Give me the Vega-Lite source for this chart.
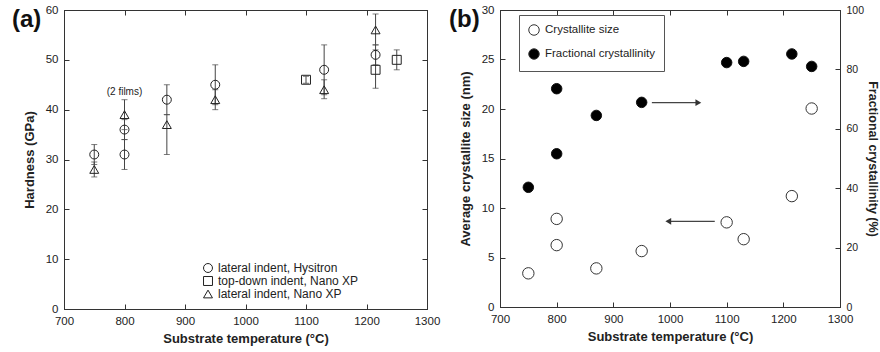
{
  "$schema": "https://vega.github.io/schema/vega-lite/v6.json",
  "padding": {"left": 11, "top": 3, "right": 0, "bottom": 0},
  "background": "white",
  "spacing": 7,
  "config": {
    "font": "Liberation Sans",
    "view": {"stroke": "#333", "strokeWidth": 1},
    "axis": {"grid": false, "labelFont": "Liberation Sans", "labelFontSize": 11.5, "labelColor": "#222", "titleFont": "Liberation Sans", "titleFontSize": 13, "titleFontWeight": "bold", "titleColor": "#222", "tickColor": "#333", "domainColor": "#333", "tickSize": -5, "labelPadding": 11, "format": "d", "labelFlush": false, "labelOverlap": false},
    "title": {"font": "Liberation Sans", "fontSize": 24, "fontWeight": "bold", "color": "#111", "anchor": "start", "frame": "group"},
    "legend": {"labelFont": "Liberation Sans"}
  },
  "resolve": {"scale": {"shape": "independent", "fill": "independent"}, "legend": {"shape": "independent", "fill": "independent"}},
  "hconcat": [
    {
      "width": 363,
      "height": 299,
      "title": {"text": "(a)", "dx": -52, "dy": 32},
      "data": {"values": [
        {"T": 750, "H": 31, "lo": 29, "hi": 33, "s": "lateral indent, Hysitron"},
        {"T": 800, "H": 36, "lo": 34, "hi": 38, "s": "lateral indent, Hysitron"},
        {"T": 800, "H": 31, "lo": 28, "hi": 34, "s": "lateral indent, Hysitron"},
        {"T": 870, "H": 42, "lo": 39, "hi": 45, "s": "lateral indent, Hysitron"},
        {"T": 950, "H": 45, "lo": 41, "hi": 49, "s": "lateral indent, Hysitron"},
        {"T": 1130, "H": 48, "lo": 43, "hi": 53, "s": "lateral indent, Hysitron"},
        {"T": 1215, "H": 51, "lo": 49, "hi": 53, "s": "lateral indent, Hysitron"},
        {"T": 1100, "H": 46, "lo": 45.3, "hi": 46.7, "s": "top-down indent, Nano XP"},
        {"T": 1215, "H": 48, "lo": 44.3, "hi": 52, "s": "top-down indent, Nano XP"},
        {"T": 1250, "H": 50, "lo": 48, "hi": 52, "s": "top-down indent, Nano XP"},
        {"T": 750, "H": 28, "lo": 26.5, "hi": 29.5, "s": "lateral indent, Nano XP"},
        {"T": 800, "H": 39, "lo": 36, "hi": 42, "s": "lateral indent, Nano XP"},
        {"T": 870, "H": 37, "lo": 31, "hi": 39, "s": "lateral indent, Nano XP"},
        {"T": 950, "H": 42, "lo": 40, "hi": 44, "s": "lateral indent, Nano XP"},
        {"T": 1130, "H": 44, "lo": 42.2, "hi": 46, "s": "lateral indent, Nano XP"},
        {"T": 1215, "H": 56, "lo": 53, "hi": 59.2, "s": "lateral indent, Nano XP"}
      ]},
      "layer": [
        {
          "mark": {"type": "rule", "color": "#444", "strokeWidth": 1},
          "encoding": {
            "x": {"field": "T", "type": "quantitative", "scale": {"domain": [700, 1300], "nice": false}, "axis": null},
            "y": {"field": "lo", "type": "quantitative", "scale": {"domain": [0, 60], "nice": false}, "axis": null},
            "y2": {"field": "hi"}
          }
        },
        {
          "mark": {"type": "tick", "orient": "horizontal", "size": 6, "thickness": 1, "color": "#444"},
          "encoding": {
            "x": {"field": "T", "type": "quantitative", "axis": null},
            "y": {"field": "lo", "type": "quantitative", "axis": null}
          }
        },
        {
          "mark": {"type": "tick", "orient": "horizontal", "size": 6, "thickness": 1, "color": "#444"},
          "encoding": {
            "x": {"field": "T", "type": "quantitative", "axis": null},
            "y": {"field": "hi", "type": "quantitative", "axis": null}
          }
        },
        {
          "mark": {"type": "point", "filled": false, "size": 80, "strokeWidth": 1, "color": "#222", "opacity": 1},
          "encoding": {
            "x": {"field": "T", "type": "quantitative", "title": "Substrate temperature (°C)", "axis": {"values": [700, 800, 900, 1000, 1100, 1200, 1300], "titlePadding": 6}},
            "y": {"field": "H", "type": "quantitative", "title": "Hardness (GPa)", "axis": {"values": [0, 10, 20, 30, 40, 50, 60], "titlePadding": 9}},
            "shape": {
              "field": "s", "type": "nominal",
              "scale": {"domain": ["lateral indent, Hysitron", "top-down indent, Nano XP", "lateral indent, Nano XP"], "range": ["circle", "square", "triangle-up"]},
              "legend": {"orient": "none", "legendX": 138, "legendY": 252, "title": null, "labelFontSize": 12, "labelColor": "#222", "symbolSize": 80, "symbolStrokeColor": "#222", "symbolStrokeWidth": 1, "symbolFillColor": "transparent", "rowPadding": -1.5, "labelOffset": 4, "padding": 0}
            }
          }
        },
        {
          "data": {"values": [{"T": 800, "H": 43.6, "t": "(2 films)"}]},
          "mark": {"type": "text", "fontSize": 10, "color": "#222"},
          "encoding": {
            "x": {"field": "T", "type": "quantitative", "axis": {"orient": "top", "labels": false, "title": null, "values": [700, 800, 900, 1000, 1100, 1200, 1300]}},
            "y": {"field": "H", "type": "quantitative", "axis": {"orient": "right", "labels": false, "title": null, "values": [0, 10, 20, 30, 40, 50, 60]}},
            "text": {"field": "t"}
          }
        }
      ],
      "resolve": {"axis": {"x": "independent", "y": "independent"}}
    },
    {
      "width": 340,
      "height": 297,
      "title": {"text": "(b)", "dx": -51, "dy": 32},
      "layer": [
        {
          "data": {"values": [
            {"T": 750, "v": 3.4, "series": "Crystallite size"},
            {"T": 800, "v": 8.9, "series": "Crystallite size"},
            {"T": 800, "v": 6.25, "series": "Crystallite size"},
            {"T": 870, "v": 3.9, "series": "Crystallite size"},
            {"T": 950, "v": 5.65, "series": "Crystallite size"},
            {"T": 1100, "v": 8.55, "series": "Crystallite size"},
            {"T": 1130, "v": 6.85, "series": "Crystallite size"},
            {"T": 1215, "v": 11.2, "series": "Crystallite size"},
            {"T": 1250, "v": 20.05, "series": "Crystallite size"}
          ]},
          "mark": {"type": "point", "shape": "circle", "filled": true, "size": 130, "stroke": "#333", "strokeWidth": 1, "opacity": 1},
          "encoding": {
            "x": {"field": "T", "type": "quantitative", "scale": {"domain": [700, 1300], "nice": false}, "title": "Substrate temperature (°C)", "axis": {"values": [700, 800, 900, 1000, 1100, 1200, 1300], "titlePadding": 6}},
            "y": {"field": "v", "type": "quantitative", "scale": {"domain": [0, 30], "nice": false}, "title": "Average crystallite size (nm)", "axis": {"values": [0, 5, 10, 15, 20, 25, 30], "titlePadding": 9}},
            "fill": {
              "field": "series", "type": "nominal",
              "scale": {"domain": ["Crystallite size", "Fractional crystallinity"], "range": ["white", "black"]},
              "legend": {"orient": "none", "legendX": 19, "legendY": 5, "title": null, "labelFontSize": 11.5, "labelColor": "#222", "symbolSize": 110, "symbolStrokeColor": "#333", "symbolStrokeWidth": 1, "rowPadding": 8, "labelOffset": 5, "padding": 9, "strokeColor": "#555", "fillColor": "white"}
            }
          }
        },
        {
          "data": {"values": [
            {"T": 750, "v": 40.3, "series": "Fractional crystallinity"},
            {"T": 800, "v": 73.5, "series": "Fractional crystallinity"},
            {"T": 800, "v": 51.6, "series": "Fractional crystallinity"},
            {"T": 870, "v": 64.5, "series": "Fractional crystallinity"},
            {"T": 950, "v": 68.9, "series": "Fractional crystallinity"},
            {"T": 1100, "v": 82.3, "series": "Fractional crystallinity"},
            {"T": 1130, "v": 82.7, "series": "Fractional crystallinity"},
            {"T": 1215, "v": 85.2, "series": "Fractional crystallinity"},
            {"T": 1250, "v": 81.0, "series": "Fractional crystallinity"}
          ]},
          "mark": {"type": "point", "shape": "circle", "filled": true, "size": 110, "stroke": "#111", "strokeWidth": 1, "opacity": 1},
          "encoding": {
            "x": {"field": "T", "type": "quantitative", "axis": {"orient": "top", "labels": false, "title": null, "values": [700, 800, 900, 1000, 1100, 1200, 1300]}},
            "y": {"field": "v", "type": "quantitative", "scale": {"domain": [0, 100], "nice": false}, "title": "Fractional crystallinity (%)", "axis": {"orient": "right", "values": [0, 20, 40, 60, 80, 100], "titlePadding": 2, "labelFontSize": 10.5, "titleFontSize": 12.5}},
            "fill": {
              "field": "series", "type": "nominal",
              "legend": {"orient": "none", "legendX": 19, "legendY": 5, "title": null, "labelFontSize": 11.5, "labelColor": "#222", "symbolSize": 110, "symbolStrokeColor": "#333", "symbolStrokeWidth": 1, "rowPadding": 8, "labelOffset": 5, "padding": 9, "strokeColor": "#555", "fillColor": "white"}
            }
          }
        },
        {
          "data": {"values": [{"T": 1079, "T2": 1000, "v": 8.65}]},
          "mark": {"type": "rule", "color": "#444", "strokeWidth": 1.2},
          "encoding": {
            "x": {"field": "T", "type": "quantitative", "axis": null},
            "x2": {"field": "T2"},
            "y": {"field": "v", "type": "quantitative", "scale": {"domain": [0, 30], "nice": false}, "axis": null}
          }
        },
        {
          "data": {"values": [{"T": 997, "v": 8.65}]},
          "mark": {"type": "point", "shape": "triangle-left", "size": 45, "filled": true, "color": "#333", "opacity": 1},
          "encoding": {
            "x": {"field": "T", "type": "quantitative", "axis": null},
            "y": {"field": "v", "type": "quantitative", "scale": {"domain": [0, 30], "nice": false}, "axis": null}
          }
        },
        {
          "data": {"values": [{"T": 968, "T2": 1048, "v": 68.8}]},
          "mark": {"type": "rule", "color": "#444", "strokeWidth": 1.2},
          "encoding": {
            "x": {"field": "T", "type": "quantitative", "axis": null},
            "x2": {"field": "T2"},
            "y": {"field": "v", "type": "quantitative", "scale": {"domain": [0, 100], "nice": false}, "axis": null}
          }
        },
        {
          "data": {"values": [{"T": 1050, "v": 68.8}]},
          "mark": {"type": "point", "shape": "triangle-right", "size": 45, "filled": true, "color": "#333", "opacity": 1},
          "encoding": {
            "x": {"field": "T", "type": "quantitative", "axis": null},
            "y": {"field": "v", "type": "quantitative", "scale": {"domain": [0, 100], "nice": false}, "axis": null}
          }
        }
      ],
      "resolve": {"scale": {"y": "independent"}, "axis": {"x": "independent", "y": "independent"}}
    }
  ]
}
